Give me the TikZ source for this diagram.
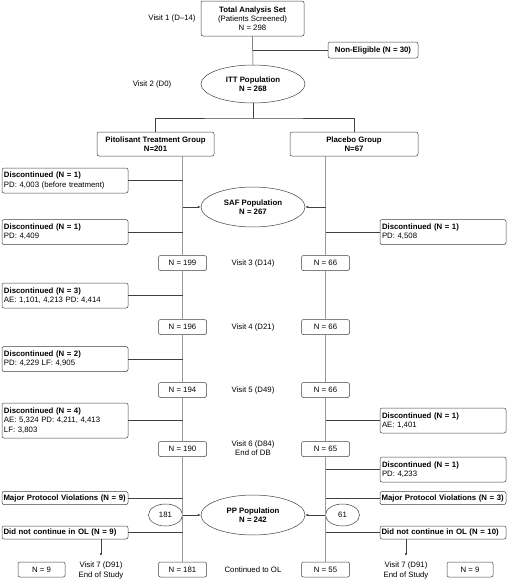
\documentclass[tikz,border=0pt]{standalone}
\usepackage{fontspec}
\setmainfont{Liberation Sans}
\usetikzlibrary{arrows.meta}
\usetikzlibrary{shapes.geometric}
\newcommand*{\discnode}[5][]{%
  \node [dropbox, #1] (#2) at (#3) {%
  \textbf{Discontinued (N = #4)}\\#5};
}

\begin{document}
\begin{tikzpicture}[x=1pt,y=-1pt,font=\fontsize{7.8}{9.2}\selectfont,
		every node/.style={inner sep=0pt,align=center}]
		\tikzset{box/.style={draw=black!75,fill=white,rounded corners=2pt,line width=0.5pt,align=center,inner sep=2pt},
			dropbox/.style={box,align=left,text width=122pt,minimum height=25pt,inner xsep=2pt},
			linebox/.style={box,align=left,text width=123pt,minimum height=13pt,inner xsep=1.5pt,inner ysep=1pt},
			countbox/.style={box,minimum width=48pt,minimum height=15pt},
			popnode/.style={ellipse,draw=black!75,fill=white,line width=0.5pt,align=center,minimum width=104pt,minimum height=40pt},
			smallpop/.style={popnode,minimum width=34pt,minimum height=22pt},
			trunk/.style={draw=black!40,line width=0.9pt},
			link/.style={draw=black!75,line width=0.5pt},
			pointer/.style={link,-{Latex[length=3pt,width=2.4pt]}}}
		\useasboundingbox (0,0) rectangle (508,579);
		% screening and randomisation
		\node[box,minimum width=103pt,minimum height=35pt] (tas) at (252.5,18.5) {\textbf{Total Analysis Set}\\(Patients Screened)\\N = 298};
		\node (v1) at (172,18) {Visit 1 (D–14)};
		\node[box,minimum width=90pt,minimum height=16pt] (nel) at (373,50) {\textbf{Non-Eligible (N = 30)}};
		\node[popnode,minimum height=38pt] (itt) at (253,84) {\textbf{ITT Population}\\\textbf{N = 268}};
		\node (v2) at (152,84) {Visit 2 (D0)};
		\coordinate (split) at (253,118);
		\node[box,minimum width=117pt,minimum height=24pt] (pit) at (155.5,144) {\textbf{Pitolisant Treatment Group}\\\textbf{N=201}};
		\node[box,minimum width=128pt,minimum height=24pt] (plc) at (354,144) {\textbf{Placebo Group}\\\textbf{N=67}};
		% visits
		\node[countbox] (l3) at (182.5,263) {N = 199};
		\node[countbox] (r3) at (325.5,263) {N = 66};
		\node (v3) at (253,263) {Visit 3 (D14)};
		\node[countbox] (l4) at (182.5,327) {N = 196};
		\node[countbox] (r4) at (325.5,327) {N = 66};
		\node (v4) at (253,327) {Visit 4 (D21)};
		\node[countbox] (l5) at (182.5,390) {N = 194};
		\node[countbox] (r5) at (325.5,390) {N = 66};
		\node (v5) at (253,390) {Visit 5 (D49)};
		\node[countbox] (l6) at (182.5,449) {N = 190};
		\node[countbox] (r6) at (325.5,449) {N = 65};
		\node (v6) at (253,448) {Visit 6 (D84)\\End of DB};
		\node[countbox] (l7) at (182.5,569.5) {N = 181};
		\node[countbox] (r7) at (325.5,569.5) {N = 55};
		\node (v7) at (253,569.5) {Continued to OL};
		% populations
		\node[popnode] (saf) at (253,207) {\textbf{SAF Population}\\\textbf{N = 267}};
		\node[popnode] (pp) at (253,515) {\textbf{PP Population}\\\textbf{N = 242}};
		\node[smallpop] (e181) at (165.5,515) {181};
		\node[smallpop] (e61) at (342.5,515) {61};
		% drop-outs
		\discnode{dl1}{65,180.5}{1}{PD: 4,003 (before treatment)}
		\discnode{dl2}{65,232}{1}{PD: 4,409}
		\discnode{dl3}{65,295.5}{3}{AE: 1,101, 4,213 PD: 4,414}
		\discnode{dl4}{65,359}{2}{PD: 4,229 LF: 4,905}
		\discnode[minimum height=35pt]{dl5}{65,420.5}{4}{AE: 5,324 PD: 4,211, 4,413\\LF: 3,803}
		\discnode{dr1}{443,232}{1}{PD: 4,508}
		\discnode{dr2}{443,420.5}{1}{AE: 1,401}
		\discnode{dr3}{443,469.5}{1}{PD: 4,233}
		\node[linebox] (mpl) at (65,498) {\textbf{Major Protocol Violations (N = 9)}};
		\node[linebox] (mpr) at (443,498) {\textbf{Major Protocol Violations (N = 3)}};
		\node[linebox] (dcl) at (65,532.5) {\textbf{Did not continue in OL (N = 9)}};
		\node[linebox] (dcr) at (443,532.5) {\textbf{Did not continue in OL (N = 10)}};
		% end of study
		\node (v7l) at (101,570.5) {Visit 7 (D91)\\End of Study};
		\node (v7r) at (406,570.5) {Visit 7 (D91)\\End of Study};
		\node[countbox,minimum width=47pt] (nl) at (41.5,569.5) {N = 9};
		\node[countbox,minimum width=46pt] (nr) at (470,569.5) {N = 9};
		% connectors
		\draw[link] (tas) -- (itt);
		\draw[link] (nel.west) -- (nel.west -| tas.south);
		\draw[link] (itt) -- (split);
		\draw[link] (pit.north) |- (split) -| (plc.north);
		\draw[trunk] (pit.south -| l3.north) -- (l3) -- (l4) -- (l5) -- (l6) -- (l7);
		\draw[trunk] (plc.south -| r3.north) -- (r3) -- (r4) -- (r5) -- (r6) -- (r7);
		\foreach \b in {dl1,dl2,dl3,dl4,dl5,mpl,dcl}
			\draw[link] (\b.east) -- (\b.east -| l3.center);
		\foreach \b in {dr1,dr2,dr3,mpr,dcr}
			\draw[link] (\b.west) -- (\b.west -| r3.center);
		\draw[pointer] (saf.west -| l3.center) -- (saf.west);
		\draw[pointer] (saf.east -| r3.center) -- (saf.east);
		\draw[pointer] (e181) -- (pp);
		\draw[pointer] (e61) -- (pp);
		\draw[pointer,shorten >=6pt] (dcl.south -| v7l.north) -- (v7l.north);
		\draw[pointer,shorten >=6pt] (dcr.south -| v7r.north) -- (v7r.north);
\end{tikzpicture}
\end{document}
